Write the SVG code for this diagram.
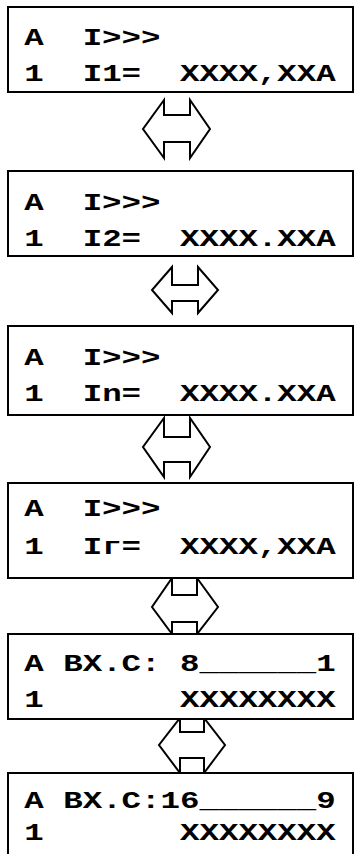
<svg xmlns="http://www.w3.org/2000/svg" width="355" height="854" viewBox="0 0 355 854" xml:space="preserve">
<style>
.box{fill:#fff;stroke:#000;stroke-width:2}
.arr{fill:#fff;stroke:#000;stroke-width:2;stroke-linejoin:miter}
.t{font-family:"Courier New","Liberation Mono",monospace;font-weight:bold;font-size:23px;fill:#000;white-space:pre}
</style>
<rect width="355" height="854" fill="#fff"/>
<g id="connectors">
<path class="arr" d="M164,100 V115 H190 V100 L210,129 L190,158 V142 H164 V158 L143,129 Z"/>
<path class="arr" d="M172,267 V285 H198 V267 L218,290 L198,313 V301 H172 V313 L152,290 Z"/>
<path class="arr" d="M164,418 V437 H190 V418 L210,447 L190,477 V462 H164 V477 L143,447 Z"/>
<path class="arr" d="M172,578 V595 H197 V578 L218,607 L197,634 V622 H172 V634 L152,607 Z"/>
<path class="arr" d="M180,718 V732 H204 V718 L225,745 L204,773 V758 H180 V773 L159,745 Z"/>
</g>
<g id="n1">
<rect class="box" x="8" y="7" width="345" height="85"/>
<text class="t" x="24.3" y="45" textLength="136.2" lengthAdjust="spacingAndGlyphs">A  I&gt;&gt;&gt;</text>
<text class="t" x="24.3" y="81" textLength="311.4" lengthAdjust="spacingAndGlyphs">1  I1=  XXXX,XXA</text>
</g>
<g id="n2">
<rect class="box" x="8" y="171" width="345" height="85"/>
<text class="t" x="24.3" y="210" textLength="136.2" lengthAdjust="spacingAndGlyphs">A  I&gt;&gt;&gt;</text>
<text class="t" x="24.3" y="246" textLength="311.4" lengthAdjust="spacingAndGlyphs">1  I2=  XXXX.XXA</text>
</g>
<g id="n3">
<rect class="box" x="8" y="326" width="345" height="89"/>
<text class="t" x="24.3" y="365" textLength="136.2" lengthAdjust="spacingAndGlyphs">A  I&gt;&gt;&gt;</text>
<text class="t" x="24.3" y="401" textLength="311.4" lengthAdjust="spacingAndGlyphs">1  In=  XXXX.XXA</text>
</g>
<g id="n4">
<rect class="box" x="8" y="483" width="345" height="95"/>
<text class="t" x="24.3" y="516" textLength="136.2" lengthAdjust="spacingAndGlyphs">A  I&gt;&gt;&gt;</text>
<text class="t" x="24.3" y="554" textLength="311.4" lengthAdjust="spacingAndGlyphs">1  Iг=  XXXX,XXA</text>
</g>
<g id="n5">
<rect class="box" x="8" y="634" width="345" height="85"/>
<text class="t" x="24.3" y="671" textLength="311.4" lengthAdjust="spacingAndGlyphs">A BX.C: 8______1</text>
<text class="t" x="24.3" y="707" textLength="311.4" lengthAdjust="spacingAndGlyphs">1       XXXXXXXX</text>
</g>
<g id="n6">
<rect class="box" x="8" y="773" width="345" height="100"/>
<text class="t" x="24.3" y="808" textLength="311.4" lengthAdjust="spacingAndGlyphs">A BX.C:16______9</text>
<text class="t" x="24.3" y="840" textLength="311.4" lengthAdjust="spacingAndGlyphs">1       XXXXXXXX</text>
</g>
</svg>
